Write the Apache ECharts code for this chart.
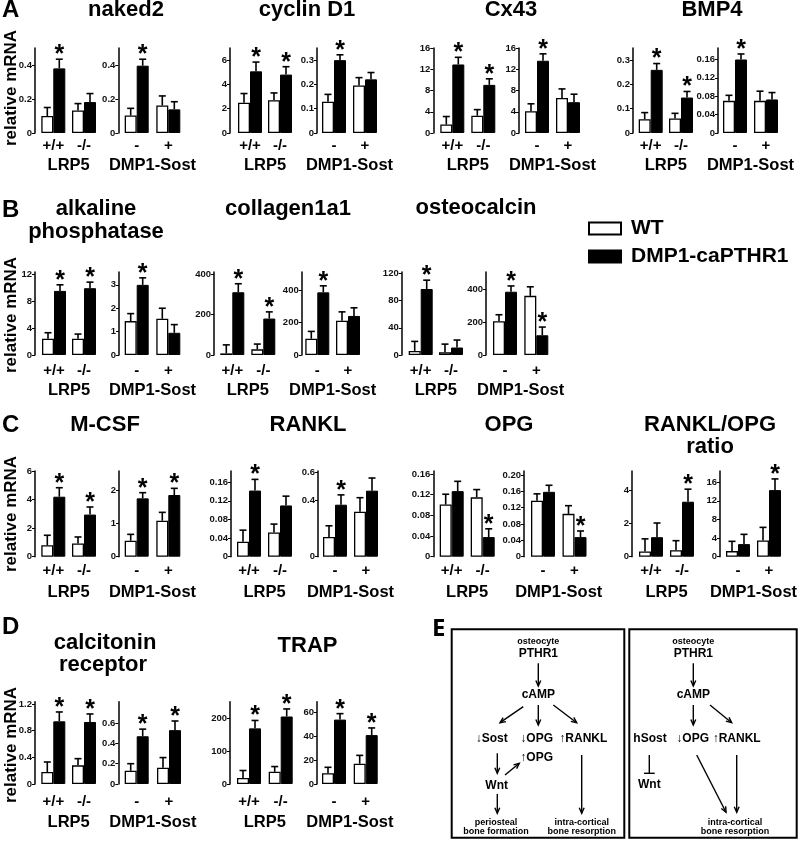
<!DOCTYPE html>
<html><head><meta charset="utf-8">
<script src="https://cdn.jsdelivr.net/npm/echarts@6/dist/echarts.min.js"></script>
<style>html,body{margin:0;padding:0;background:#fff}#c{width:800px;height:841px}</style>
</head><body><div id="c"></div>
<script>
// ---------------- DATA ----------------
// order of each array: [LRP5 +/+, LRP5 -/-, DMP1-Sost -, DMP1-Sost +]
const lrp5Cats = ['+/+', '-/-'];
const sostCats = ['-', '+'];
const seriesNames = ['WT', 'DMP1-caPTHR1'];

const naked2WT = [0.10, 0.133, 0.103, 0.162];
const naked2WTsem = [0.05, 0.04, 0.042, 0.056];
const naked2TG = [0.38, 0.182, 0.396, 0.139];
const naked2TGsem = [0.054, 0.05, 0.038, 0.045];
const naked2Star = [1, 0, 1, 0];
const naked2Ticks = [[0, 0.2, 0.4], [0, 0.2, 0.4]];

const cyclinWT = [2.5, 2.7, 0.129, 0.196];
const cyclinWTsem = [0.75, 0.6, 0.03, 0.032];
const cyclinTG = [5.08, 4.81, 0.30, 0.221];
const cyclinTGsem = [0.76, 0.65, 0.022, 0.028];
const cyclinStar = [1, 1, 1, 0];
const cyclinTicks = [[0, 2, 4, 6], [0, 0.1, 0.2, 0.3]];

const cx43WT = [1.6, 3.25, 4.1, 6.6];
const cx43WTsem = [1.5, 1.15, 1.4, 1.7];
const cx43TG = [12.9, 9.06, 13.6, 5.8];
const cx43TGsem = [1.35, 1.14, 1.3, 1.5];
const cx43Star = [1, 1, 1, 0];
const cx43Ticks = [[0, 4, 8, 12, 16], [0, 4, 8, 12, 16]];

const bmp4WT = [0.057, 0.06, 0.07, 0.07];
const bmp4WTsem = [0.027, 0.021, 0.012, 0.021];
const bmp4TG = [0.26, 0.146, 0.16, 0.073];
const bmp4TGsem = [0.026, 0.025, 0.012, 0.015];
const bmp4Star = [1, 1, 1, 0];
const bmp4Ticks = [[0, 0.1, 0.2, 0.3], [0, 0.04, 0.08, 0.12, 0.16]];

const alpWT = [2.4, 2.4, 1.45, 1.55];
const alpWTsem = [0.9, 0.7, 0.32, 0.45];
const alpTG = [9.5, 9.9, 3.0, 0.95];
const alpTGsem = [0.9, 0.9, 0.3, 0.35];
const alpStar = [1, 1, 1, 0];
const alpTicks = [[0, 4, 8, 12], [0, 1, 2, 3]];

const colWT = [8, 28, 100, 210];
const colWTsem = [42, 26, 45, 55];
const colTG = [310, 180, 385, 240];
const colTGsem = [42, 33, 40, 50];
const colStar = [1, 1, 1, 0];
const colTicks = [[0, 200, 400], [0, 200, 400]];

const ocnWT = [6, 4, 205, 360];
const ocnWTsem = [14, 12, 40, 55];
const ocnTG = [97, 11, 385, 120];
const ocnTGsem = [13, 11, 35, 50];
const ocnStar = [1, 0, 1, 1];
const ocnTicks = [[0, 40, 80, 120], [0, 200, 400]];

const mcsfWT = [0.8, 0.92, 0.48, 1.08];
const mcsfWTsem = [0.7, 0.46, 0.19, 0.25];
const mcsfTG = [4.2, 2.95, 1.75, 1.85];
const mcsfTGsem = [0.63, 0.53, 0.17, 0.2];
const mcsfStar = [1, 1, 1, 1];
const mcsfTicks = [[0, 2, 4, 6], [0, 1, 2]];

const ranklWT = [0.032, 0.052, 0.14, 0.32];
const ranklWTsem = [0.025, 0.018, 0.08, 0.1];
const ranklTG = [0.142, 0.11, 0.37, 0.47];
const ranklTGsem = [0.024, 0.02, 0.07, 0.09];
const ranklStar = [1, 0, 1, 0];
const ranklTicks = [[0, 0.04, 0.08, 0.12, 0.16], [0, 0.4, 0.6]];

const opgWT = [0.101, 0.115, 0.137, 0.105];
const opgWTsem = [0.02, 0.015, 0.017, 0.02];
const opgTG = [0.127, 0.038, 0.159, 0.048];
const opgTGsem = [0.019, 0.016, 0.016, 0.015];
const opgStar = [0, 1, 0, 1];
const opgTicks = [[0, 0.04, 0.08, 0.12, 0.16], [0, 0.04, 0.08, 0.12, 0.16, 0.2]];

const ratioWT = [0.32, 0.39, 1.2, 3.5];
const ratioWTsem = [0.76, 0.58, 2.1, 2.8];
const ratioTG = [1.18, 3.33, 2.7, 14.3];
const ratioTGsem = [0.86, 0.76, 2.1, 2.4];
const ratioStar = [0, 1, 0, 1];
const ratioTicks = [[0, 2, 4], [0, 4, 8, 12, 16]];

const calcWT = [0.18, 0.28, 0.13, 0.16];
const calcWTsem = [0.15, 0.1, 0.07, 0.1];
const calcTG = [0.94, 0.93, 0.47, 0.53];
const calcTGsem = [0.14, 0.12, 0.07, 0.09];
const calcStar = [1, 1, 1, 1];
const calcTicks = [[0, 0.4, 0.8, 1.2], [0, 0.2, 0.4, 0.6]];

const trapWT = [18, 37, 9, 17];
const trapWTsem = [23, 16, 5, 7];
const trapTG = [169, 205, 54, 41];
const trapTGsem = [24, 23, 5, 6];
const trapStar = [1, 1, 1, 1];
const trapTicks = [[0, 100, 200], [0, 20, 40, 60]];

const genes = {
  naked2: [naked2WT, naked2WTsem, naked2TG, naked2TGsem, naked2Star, naked2Ticks],
  cyclin: [cyclinWT, cyclinWTsem, cyclinTG, cyclinTGsem, cyclinStar, cyclinTicks],
  cx43: [cx43WT, cx43WTsem, cx43TG, cx43TGsem, cx43Star, cx43Ticks],
  bmp4: [bmp4WT, bmp4WTsem, bmp4TG, bmp4TGsem, bmp4Star, bmp4Ticks],
  alp: [alpWT, alpWTsem, alpTG, alpTGsem, alpStar, alpTicks],
  col: [colWT, colWTsem, colTG, colTGsem, colStar, colTicks],
  ocn: [ocnWT, ocnWTsem, ocnTG, ocnTGsem, ocnStar, ocnTicks],
  mcsf: [mcsfWT, mcsfWTsem, mcsfTG, mcsfTGsem, mcsfStar, mcsfTicks],
  rankl: [ranklWT, ranklWTsem, ranklTG, ranklTGsem, ranklStar, ranklTicks],
  opg: [opgWT, opgWTsem, opgTG, opgTGsem, opgStar, opgTicks],
  ratio: [ratioWT, ratioWTsem, ratioTG, ratioTGsem, ratioStar, ratioTicks],
  calc: [calcWT, calcWTsem, calcTG, calcTGsem, calcStar, calcTicks],
  trap: [trapWT, trapWTsem, trapTG, trapTGsem, trapStar, trapTicks]
};

// ---------------- LAYOUT ----------------
const rows = [
  {top: 48, base: 133, catMargin: 5, nameGap: 24},
  {top: 272, base: 355, catMargin: 8, nameGap: 27},
  {top: 471, base: 556.7, catMargin: 7, nameGap: 27},
  {top: 701.7, base: 784, catMargin: 10, nameGap: 30}
];
const panels = [
  ['naked2', 0, 0, 35, 53.3, 84, 0.5], ['naked2', 1, 0, 118.3, 136.7, 168.3, 0.5],
  ['cyclin', 0, 0, 230, 250, 280, 7], ['cyclin', 1, 0, 317, 334, 365, 0.35],
  ['cx43', 0, 0, 433.3, 452.3, 483.3, 16], ['cx43', 1, 0, 519, 537, 568, 16],
  ['bmp4', 0, 0, 633, 650.7, 681, 0.35], ['bmp4', 1, 0, 718, 735, 766, 0.185],
  ['alp', 0, 1, 35, 54, 84, 12.3], ['alp', 1, 1, 119, 136.7, 168.3, 3.55],
  ['col', 0, 1, 214, 232.3, 263.3, 410], ['col', 1, 1, 301.7, 317.3, 348, 510],
  ['ocn', 0, 1, 401.7, 420.7, 451, 122], ['ocn', 1, 1, 486, 505, 536.3, 505],
  ['mcsf', 0, 2, 35, 53.3, 84, 6], ['mcsf', 1, 2, 119, 136.7, 168.3, 2.57],
  ['rankl', 0, 2, 231, 249, 280, 0.184], ['rankl', 1, 2, 318, 335, 366, 0.61],
  ['opg', 0, 2, 433.3, 451.7, 482.7, 0.166], ['opg', 1, 2, 524, 543, 574.5, 0.21, 2],
  ['ratio', 0, 2, 632, 651, 682, 5.19], ['ratio', 1, 2, 720, 738, 769, 18.4],
  ['calc', 0, 3, 35, 53.3, 84, 1.234], ['calc', 1, 3, 118.3, 136.7, 169, 0.81],
  ['trap', 0, 3, 230, 249, 280.7, 250], ['trap', 1, 3, 317, 334, 365.7, 69]
];

const FONT = '"Liberation Sans", Arial, "DejaVu Sans", sans-serif';
const BAR_W = 12;

function errRender(offset) {
  return function (params, api) {
    const p0 = api.coord([api.value(0), api.value(1)]);
    const p1 = api.coord([api.value(0), api.value(2)]);
    const x = p0[0] + offset;
    const children = [
      {type: 'line', shape: {x1: x, y1: p0[1], x2: x, y2: p1[1]}, style: {stroke: '#000', lineWidth: 1.6}},
      {type: 'line', shape: {x1: x - 3.5, y1: p1[1], x2: x + 3.5, y2: p1[1]}, style: {stroke: '#000', lineWidth: 1.6}}
    ];
    if (api.value(3)) {
      children.push({type: 'text', style: {text: '*', x: x, y: p1[1] - 4, fill: '#000',
        fontSize: 25, fontWeight: 'bold', fontFamily: FONT, align: 'center', verticalAlign: 'middle'}});
    }
    return {type: 'group', children};
  };
}

const grid = [], xAxis = [], yAxis = [], series = [];
panels.forEach((p, i) => {
  const [gname, half, rowIdx, ax, c1, c2, max, dec] = p;
  const row = rows[rowIdx];
  const [wt, wtSem, tg, tgSem, star, ticks] = genes[gname];
  const band = c2 - c1;
  const left = c1 - band / 2;
  grid.push({left: left, top: row.top, width: band * 2, height: row.base - row.top});
  xAxis.push({
    gridIndex: i, type: 'category', data: half ? sostCats : lrp5Cats,
    axisLine: {show: false}, axisTick: {show: false},
    axisLabel: {color: '#000', fontSize: 15, fontWeight: 'bold', fontFamily: FONT, margin: row.catMargin, interval: 0},
    name: half ? 'DMP1-Sost' : 'LRP5', nameLocation: 'middle', nameGap: row.nameGap,
    nameTextStyle: {color: '#000', fontSize: 16.5, fontWeight: 'bold', fontFamily: FONT}
  });
  const tk = ticks[half];
  yAxis.push({
    gridIndex: i, type: 'value', min: 0, max: max, offset: left - ax,
    axisLine: {show: true, lineStyle: {color: '#000', width: 1.5}},
    axisTick: {show: true, length: 3, customValues: tk, lineStyle: {color: '#000', width: 1}},
    axisLabel: {customValues: tk, color: '#111', fontSize: 9.5, fontWeight: 'bold', fontFamily: FONT, margin: 3,
      formatter: v => (dec && v !== 0) ? v.toFixed(dec) : String(v)},
    splitLine: {show: false}
  });
  const s = half * 2;
  series.push({type: 'bar', name: seriesNames[0], xAxisIndex: i, yAxisIndex: i, data: wt.slice(s, s + 2),
    barWidth: BAR_W, barGap: '0%', itemStyle: {color: '#fff', borderColor: '#000', borderWidth: 1.3}, silent: true});
  series.push({type: 'bar', name: seriesNames[1], xAxisIndex: i, yAxisIndex: i, data: tg.slice(s, s + 2),
    barWidth: BAR_W, barGap: '0%', itemStyle: {color: '#000', borderColor: '#000', borderWidth: 1}, silent: true});
  series.push({type: 'custom', name: 'errWT', xAxisIndex: i, yAxisIndex: i, renderItem: errRender(-BAR_W / 2),
    data: [0, 1].map(k => [k, wt[s + k], wt[s + k] + wtSem[s + k], 0]), silent: true, z: 3});
  series.push({type: 'custom', name: 'errTG', xAxisIndex: i, yAxisIndex: i, renderItem: errRender(BAR_W / 2),
    data: [0, 1].map(k => [k, tg[s + k], tg[s + k] + tgSem[s + k], star[s + k]]), silent: true, z: 3});
});

// ---------------- TEXT / PANEL E ----------------
const graphic = [];
function txt(text, x, y, size, opts) {
  graphic.push(Object.assign({type: 'text', x: x, y: y, silent: true,
    style: {text: text, fill: '#000', fontSize: size, fontWeight: 'bold', fontFamily: FONT,
      align: 'center', verticalAlign: 'middle'}}, opts || {}));
}
// panel letters
[['A', 10], ['B', 210], ['C', 425], ['D', 627]].forEach(l => txt(l[0], 2, l[1], 24, {style: {text: l[0], fill: '#000', fontSize: 24, fontWeight: 'bold', fontFamily: FONT, align: 'left', verticalAlign: 'middle'}}));
txt('E', 432, 629, 24, {style: {text: 'E', fill: '#000', fontSize: 24, fontWeight: 'bold', fontFamily: '"Open Sans", ' + FONT, align: 'left', verticalAlign: 'middle'}});
// titles
[['naked2', 126, 10], ['cyclin D1', 307, 10], ['Cx43', 511, 10], ['BMP4', 712, 10],
 ['alkaline', 96, 209], ['phosphatase', 96, 232], ['collagen1a1', 288, 209], ['osteocalcin', 476, 208],
 ['M-CSF', 105, 425], ['RANKL', 308, 425], ['OPG', 509, 425], ['RANKL/OPG', 710, 425], ['ratio', 710, 447],
 ['calcitonin', 105, 643], ['receptor', 103, 665], ['TRAP', 307.5, 646]
].forEach(t => txt(t[0], t[1], t[2], 22));
// y-axis titles
[88, 315, 514, 745].forEach(y => txt('relative mRNA', 11, y, 17, {rotation: Math.PI / 2}));

// panel E boxes
graphic.push({type: 'rect', shape: {x: 451.7, y: 629.3, width: 172.6, height: 208.4}, style: {fill: null, stroke: '#000', lineWidth: 2}, silent: true});
graphic.push({type: 'rect', shape: {x: 629.3, y: 629.3, width: 167.4, height: 208.4}, style: {fill: null, stroke: '#000', lineWidth: 2}, silent: true});
function arrow(x1, y1, x2, y2) {
  const a = Math.atan2(y2 - y1, x2 - x1), L = 6, w = 0.42;
  graphic.push({type: 'line', shape: {x1, y1, x2, y2}, style: {stroke: '#000', lineWidth: 1.4}, silent: true});
  graphic.push({type: 'polyline', shape: {points: [[x2 - L * Math.cos(a - w), y2 - L * Math.sin(a - w)], [x2, y2], [x2 - L * Math.cos(a + w), y2 - L * Math.sin(a + w)]]},
    style: {stroke: '#000', lineWidth: 1.4, fill: null}, silent: true});
}
// box 1
txt('osteocyte', 538.3, 641.7, 9);
txt('PTHR1', 538.3, 653.5, 12);
txt('cAMP', 538.3, 695, 12);
txt('↓Sost', 491.7, 738.3, 12);
txt('↓OPG', 536.7, 738.3, 12);
txt('↑RANKL', 583.3, 738.3, 12);
txt('↑OPG', 536.7, 757.7, 12);
txt('Wnt', 496.7, 786, 12);
txt('periosteal', 496, 822.7, 9);
txt('bone formation', 496, 831.2, 9);
txt('intra-cortical', 581.7, 822.7, 9);
txt('bone resorption', 581.7, 831.2, 9);
arrow(538.3, 663.3, 538.3, 686);
arrow(523.3, 706.7, 500, 722.7);
arrow(538.3, 705, 538.3, 725);
arrow(553.3, 705, 576.7, 722.7);
arrow(497.3, 753.3, 497.3, 773.3);
arrow(505, 775, 519.3, 763.3);
arrow(497.3, 794, 497.3, 813.3);
arrow(581.7, 755, 581.7, 813.3);
// box 2
txt('osteocyte', 693.3, 641.7, 9);
txt('PTHR1', 693.3, 653.5, 12);
txt('cAMP', 693.3, 695, 12);
txt('hSost', 650, 738.3, 12);
txt('↓OPG', 692.7, 738.3, 12);
txt('↑RANKL', 736.7, 738.3, 12);
txt('Wnt', 649.3, 785, 12);
txt('intra-cortical', 735, 822.7, 9);
txt('bone resorption', 735, 831.2, 9);
arrow(693.3, 663.3, 693.3, 686);
arrow(693.3, 705, 693.3, 725);
arrow(710, 705, 731.7, 722.7);
arrow(696.7, 755, 726, 812.3);
arrow(736.7, 755, 736.7, 812.3);
graphic.push({type: 'line', shape: {x1: 649.3, y1: 755, x2: 649.3, y2: 773.3}, style: {stroke: '#000', lineWidth: 1.4}, silent: true});
graphic.push({type: 'line', shape: {x1: 644, y1: 773.3, x2: 654.7, y2: 773.3}, style: {stroke: '#000', lineWidth: 1.4}, silent: true});

const chart = echarts.init(document.getElementById('c'), null, {renderer: 'canvas'});
chart.setOption({
  animation: false,
  backgroundColor: '#fff',
  legend: {
    data: [{name: 'WT', itemStyle: {borderWidth: 2}}, {name: 'DMP1-caPTHR1'}],
    orient: 'vertical', left: 583, top: 213, itemWidth: 32, itemHeight: 12, itemGap: 7,
    icon: 'rect', selectedMode: false,
    textStyle: {color: '#000', fontSize: 21, fontWeight: 'bold', fontFamily: FONT, padding: [0, 0, 0, 5]}
  },
  grid, xAxis, yAxis, series, graphic
});
</script></body></html>
